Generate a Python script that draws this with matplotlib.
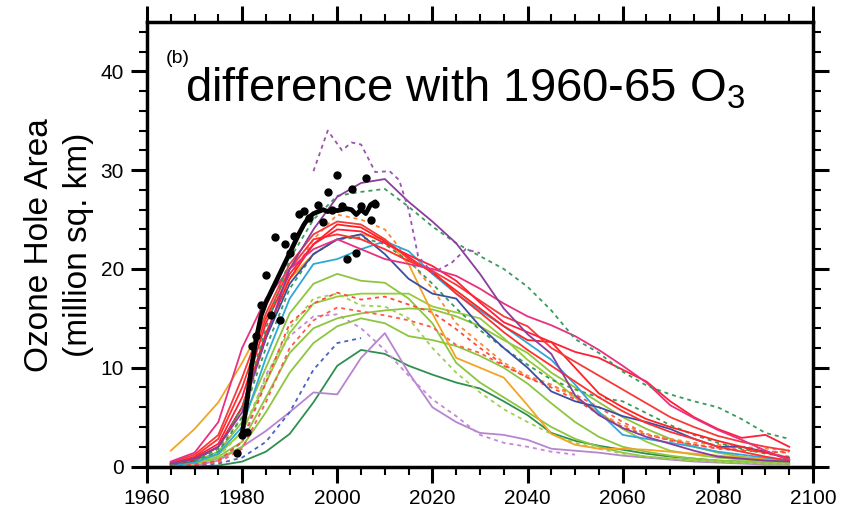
import matplotlib
matplotlib.use("Agg")
import matplotlib.pyplot as plt
from matplotlib.ticker import MultipleLocator

plt.rcParams['font.family'] = ['Liberation Sans', 'DejaVu Sans']
plt.rcParams['mathtext.fontset'] = 'custom'
plt.rcParams['mathtext.rm'] = 'Liberation Sans'

# model years (every 5 yr)
years = list(range(1965, 2100, 5))

purple_solid = [0.3, 0.8, 2.0, 5.5, 13.0, 20.0, 24.0, 27.3, 28.7, 29.1, 26.8, 24.8, 22.6, 19.5, 16.0, 13.4, 11.4, 7.2, 5.2, 3.9, 3.0, 2.3, 1.6, 1.0, 0.8, 0.6, 0.5]
green_dot_a = [0.2, 0.6, 1.8, 6.0, 14.0, 21.0, 25.0, 27.4, 27.8, 28.1, 26.3, 24.3, 22.6, 21.3, 20.0, 18.2, 15.8, 12.9, 11.5, 9.6, 8.2, 7.3, 6.6, 6.0, 4.8, 3.4, 2.8]
green_dot_b = [0.2, 0.5, 1.5, 5.0, 12.0, 18.0, 21.5, 23.0, 23.2, 22.5, 20.8, 18.5, 16.0, 13.8, 12.0, 10.3, 8.8, 7.8, 7.0, 6.6, 5.4, 4.2, 3.2, 2.4, 1.8, 1.3, 1.0]
pink = [0.5, 1.4, 4.5, 12.0, 17.0, 20.0, 22.0, 23.0, 22.0, 21.0, 20.5, 20.0, 19.3, 18.0, 16.5, 15.2, 14.3, 13.2, 11.8, 10.2, 8.5, 6.2, 4.9, 3.7, 2.7, 1.6, 0.7]
red_a = [0.3, 0.9, 2.3, 7.0, 14.5, 19.5, 22.5, 24.0, 23.8, 22.6, 21.4, 20.3, 18.8, 16.6, 14.6, 13.6, 12.6, 11.6, 11.0, 9.8, 8.6, 6.6, 5.0, 3.8, 2.9, 3.2, 2.0]
red_b = [0.2, 0.7, 2.0, 6.0, 13.5, 19.0, 22.5, 24.5, 24.2, 22.8, 21.2, 19.6, 17.8, 16.0, 14.2, 12.8, 12.6, 10.0, 7.4, 6.0, 4.8, 4.0, 3.3, 2.6, 2.0, 1.4, 0.9]
red_c = [0.3, 1.0, 2.8, 8.0, 15.0, 20.0, 23.0, 23.5, 23.0, 22.0, 20.8, 19.8, 17.5, 15.6, 13.6, 11.8, 10.2, 8.6, 7.0, 5.6, 4.4, 3.5, 2.8, 2.0, 1.5, 1.0, 0.6]
red_d = [0.4, 1.2, 3.2, 9.0, 15.5, 20.5, 23.5, 24.8, 24.5, 23.0, 21.0, 19.8, 18.4, 16.8, 15.2, 14.2, 12.0, 10.6, 9.2, 7.8, 6.4, 5.0, 4.0, 3.1, 2.5, 2.0, 1.6]
orange = [1.6, 3.8, 6.5, 10.5, 15.0, 19.0, 21.5, 23.0, 23.5, 23.0, 20.5, 15.5, 11.0, 10.0, 9.0, 6.2, 3.3, 2.2, 1.8, 1.8, 1.7, 1.5, 1.3, 1.1, 0.9, 0.8, 0.6]
blue = [0.2, 0.6, 2.0, 6.0, 13.0, 18.5, 21.5, 23.0, 23.5, 21.5, 19.0, 17.5, 17.0, 14.2, 12.0, 10.0, 7.6, 6.6, 6.0, 5.1, 4.5, 3.8, 2.8, 2.0, 2.0, 1.5, 0.7]
cyan = [0.1, 0.4, 1.3, 4.0, 11.0, 17.0, 20.5, 21.0, 22.0, 22.8, 21.8, 19.5, 17.5, 15.8, 14.2, 12.5, 10.8, 8.3, 5.5, 3.2, 2.8, 2.4, 2.0, 1.5, 1.2, 0.9, 0.6]
lgreen_1 = [0.2, 0.5, 1.5, 4.5, 10.0, 15.5, 18.5, 19.5, 18.8, 18.6, 17.0, 14.5, 10.5, 8.5, 7.0, 5.5, 4.0, 2.8, 2.0, 1.4, 1.0, 0.8, 0.6, 0.5, 0.4, 0.3, 0.3]
lgreen_2 = [0.2, 0.5, 1.2, 3.5, 8.5, 13.5, 16.5, 17.2, 17.5, 17.5, 17.5, 16.2, 15.6, 15.0, 13.0, 10.8, 9.0, 7.0, 5.5, 3.8, 2.5, 1.6, 1.2, 0.9, 0.7, 0.5, 0.4]
lgreen_3 = [0.1, 0.4, 1.0, 2.5, 7.0, 11.5, 14.0, 15.0, 15.5, 15.8, 16.0, 15.9, 15.2, 14.2, 12.8, 11.5, 9.5, 8.0, 6.5, 5.0, 3.8, 2.8, 2.0, 1.4, 1.0, 0.7, 0.5]
lgreen_4 = [0.1, 0.3, 0.8, 2.0, 5.5, 9.5, 12.5, 14.2, 15.0, 14.5, 13.2, 12.8, 12.2, 11.2, 10.0, 8.4, 6.4, 4.5, 3.0, 2.0, 1.5, 1.1, 0.8, 0.6, 0.5, 0.4, 0.3]
lgreen_dot = [0.1, 0.4, 1.0, 3.5, 9.0, 14.0, 17.0, 17.5, 16.3, 16.2, 15.0, 12.0, 9.5, 7.5, 5.8, 4.5, 3.3, 2.4, 1.8, 1.3, 1.0, 0.8, 0.6, 0.5, 0.4, 0.3, 0.3]
red_dot_a = [0.1, 0.2, 0.6, 2.5, 8.5, 14.5, 16.5, 17.6, 16.9, 17.2, 16.4, 15.6, 13.9, 12.0, 10.3, 9.0, 8.0, 6.8, 5.3, 4.0, 3.2, 2.7, 2.2, 1.8, 1.6, 1.5, 1.4]
red_dot_b = [0.1, 0.2, 0.4, 1.8, 6.5, 12.0, 14.8, 16.1, 15.7, 15.3, 14.8, 14.1, 12.3, 11.5, 10.2, 9.0, 8.2, 7.3, 6.0, 4.5, 3.3, 2.6, 2.2, 1.9, 1.7, 1.5, 1.5]
orange_dot = [0.2, 0.6, 1.8, 5.0, 13.0, 19.0, 23.0, 25.5, 25.0, 24.0, 21.0, 18.0, 14.5, 12.5, 10.5, 9.2, 8.3, 7.0, 5.4, 4.2, 3.3, 2.8, 2.4, 2.2, 2.0, 1.8, 1.7]
dkgreen = [0.0, 0.0, 0.1, 0.5, 1.5, 3.3, 6.5, 10.2, 11.8, 11.4, 10.2, 9.3, 8.5, 7.9, 6.6, 5.2, 3.4, 2.6, 2.1, 1.7, 1.3, 1.0, 0.8, 0.6, 0.5, 0.4, 0.3]
lpurple = [0.0, 0.1, 0.6, 2.0, 3.6, 5.5, 7.5, 7.3, 11.0, 13.5, 9.5, 6.0, 4.5, 3.4, 3.2, 2.7, 1.8, 1.6, 1.4, 1.1, 0.9, 0.7, 0.5, 0.4, 0.3, 0.2, 0.2]

# shorter runs
lpurple_dot_years = list(range(1965, 2055, 5))
lpurple_dot = [0.0, 0.1, 0.5, 2.5, 9.3, 13.2, 15.2, 15.4, 14.0, 11.8, 9.2, 6.8, 5.1, 3.2, 2.4, 2.0, 1.5, 1.2]
blue_dot_years = list(range(1965, 2010, 5))
blue_dot = [0.0, 0.1, 0.3, 0.9, 2.5, 5.5, 9.8, 12.5, 13.0]
purple_dot_years = [1995, 1998, 2001, 2003, 2005, 2008, 2011, 2013, 2015, 2017, 2020, 2024, 2027, 2030]
purple_dot = [29.9, 34.0, 32.0, 32.8, 32.6, 29.8, 29.9, 29.0, 26.0, 21.3, 19.6, 20.6, 22.0, 21.6]

# observations
obs_years = [1979, 1980, 1981, 1982, 1983, 1984, 1985, 1986, 1987, 1988, 1989, 1990, 1991, 1992, 1993,
             1994, 1996, 1997, 1998, 1999, 2000, 2001, 2002, 2003, 2004, 2005, 2006, 2007, 2008]
obs_area = [1.4, 3.2, 3.5, 12.2, 13.2, 16.3, 19.4, 15.3, 23.2, 14.8, 22.5, 21.6, 23.3, 25.6, 25.9,
            25.2, 26.5, 24.8, 27.8, 26.0, 29.5, 26.4, 21.0, 28.1, 21.6, 26.4, 29.2, 25.0, 26.6]
fit_years = list(range(1980, 2009))
fit_area = [3.3, 6.5, 10.2, 13.0, 15.3, 16.6, 17.6, 18.6, 19.6, 20.6, 21.6, 22.6, 23.6, 24.5, 25.2,
            25.6, 25.8, 26.0, 25.8, 26.0, 25.9, 26.0, 26.1, 26.0, 25.5, 26.0, 25.6, 26.5, 26.8]

dotted = (0, (2.2, 2.2))
models = [
    (years, dkgreen, '#2f8f4f', '-'),
    (years, lpurple, '#b784cf', '-'),
    (lpurple_dot_years, lpurple_dot, '#c08ad6', dotted),
    (blue_dot_years, blue_dot, '#4a62c0', dotted),
    (years, lgreen_4, '#8cc63f', '-'),
    (years, lgreen_3, '#8cc63f', '-'),
    (years, lgreen_2, '#96cc3a', '-'),
    (years, lgreen_1, '#8cc63f', '-'),
    (years, lgreen_dot, '#a0d050', dotted),
    (years, red_dot_b, '#ff5a4a', dotted),
    (years, red_dot_a, '#ff4a3a', dotted),
    (years, orange, '#f2a424', '-'),
    (years, orange_dot, '#f58a3c', dotted),
    (years, green_dot_b, '#3a9a5c', dotted),
    (years, cyan, '#2ea8d8', '-'),
    (years, blue, '#3b4ea3', '-'),
    (years, red_c, '#ff3030', '-'),
    (years, red_b, '#ff2222', '-'),
    (years, red_d, '#f53a3a', '-'),
    (years, red_a, '#ff1f3a', '-'),
    (years, pink, '#e8307f', '-'),
    (years, green_dot_a, '#3a9a5c', dotted),
    (years, purple_solid, '#8a3d9c', '-'),
    (purple_dot_years, purple_dot, '#9c52b3', dotted),
]

fig = plt.figure(figsize=(8.58, 5.23), dpi=100)
ax = fig.add_axes([0.1713, 0.108, 0.7762, 0.850])

for xs, ys, color, ls in models:
    ax.plot(xs, ys, color=color, linestyle=ls, linewidth=1.3)

ax.plot(fit_years, fit_area, color='black', linewidth=3.4, solid_capstyle='round')
ax.plot(obs_years, obs_area, 'o', color='black', markersize=5)

ax.set_xlim(1960, 2100)
ax.set_ylim(0, 45)
ax.xaxis.set_major_locator(MultipleLocator(20))
ax.xaxis.set_minor_locator(MultipleLocator(5))
ax.yaxis.set_major_locator(MultipleLocator(10))
ax.yaxis.set_minor_locator(MultipleLocator(2))
ax.tick_params(which='both', direction='out', top=True, right=True, labelsize=15)
ax.tick_params(which='major', length=11.5, width=2.2, pad=5)
ax.tick_params(which='minor', length=5.8, width=1.5)
for sp in ax.spines.values():
    sp.set_linewidth(2.5)

ax.text(0.028, 0.908, '(b)', transform=ax.transAxes, fontsize=14, va='baseline')
ax.text(0.057, 0.822, 'difference with 1960-65 O$_3$', transform=ax.transAxes,
        fontsize=34, va='baseline')

fig.text(40 / 858, 1 - 245 / 523, 'Ozone Hole Area', rotation=90, ha='center', va='center', fontsize=24)
fig.text(78 / 858, 1 - 245 / 523, '(million sq. km)', rotation=90, ha='center', va='center', fontsize=24)

fig.savefig('out.png', dpi=100)
